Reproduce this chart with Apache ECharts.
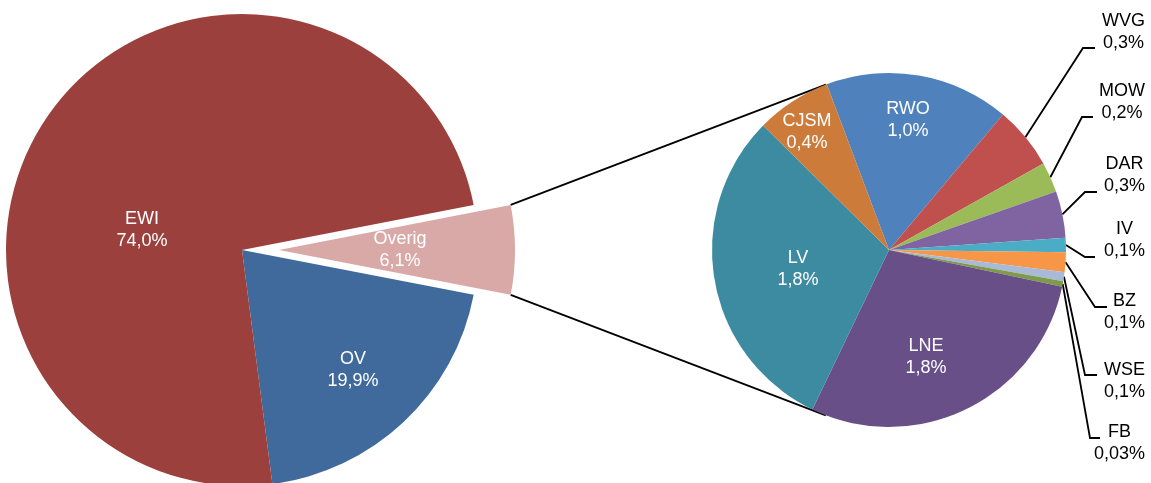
<!DOCTYPE html>
<html>
<head>
    <meta charset="utf-8">
    <script src="https://cdn.jsdelivr.net/npm/echarts@6/dist/echarts.min.js"></script>
</head>
<body style="margin: 0">
    <div id="container" style="width: 1151px; height: 483px"></div>
    <script type="text/javascript">

        // main pie (share of total)
        let mainNames = ['Overig', 'OV', 'EWI'];
        let mainValues = [6.1, 19.9, 74.0];
        let mainLabels = ['6,1%', '19,9%', '74,0%'];

        // breakdown of "Overig"
        let subNames = ['RWO', 'WVG', 'MOW', 'DAR', 'IV', 'BZ', 'WSE', 'FB', 'LNE', 'LV', 'CJSM'];
        let subValues = [1.03, 0.35, 0.17, 0.26, 0.08, 0.11, 0.05, 0.03, 1.76, 1.85, 0.42];
        let subLabels = ['1,0%', '0,3%', '0,2%', '0,3%', '0,1%', '0,1%', '0,1%', '0,03%', '1,8%', '1,8%', '0,4%'];

        let mainColors = ['#D9A9A8', '#3F6A9B', '#9C403D'];
        let subColors = ['#4F81BD', '#C0504D', '#9BBB59', '#8064A2', '#4BACC6', '#F79646',
            '#A9B9D8', '#7F9A48', '#684F88', '#3C8BA1', '#CD7B3A'];

        // layout (px)
        let mainCenter = [242, 250], mainRadius = 236, explode = 37, mainStart = 11;
        let subCenter = [889, 250], subRadius = 177, subStart = 110.6;
        let mainLabelPos = [[453, 250], [353, 370], [142, 230]];
        let innerPos = { RWO: [908, 120], LNE: [926, 357], LV: [798, 269], CJSM: [807, 132] };
        // outer labels: label centre y, leader elbow x, leader y, leader end x
        let outerPos = {
            WVG: [32, 1083, 48, 1095],
            MOW: [102, 1082, 117, 1093],
            DAR: [175, 1085, 192, 1097],
            IV: [240, 1085, 257, 1095],
            BZ: [312, 1095, 307, 1107],
            WSE: [381, 1085, 375, 1097],
            FB: [443, 1090, 438, 1100]
        };
        let labelRight = 1145;

        const rad = d => d * Math.PI / 180;
        const sum = a => a.reduce((s, v) => s + v, 0);

        // point on the edge of the breakdown pie at the middle of slice i
        function subEdge(i) {
            let before = sum(subValues.slice(0, i));
            let a = subStart - (before + subValues[i] / 2) / sum(subValues) * 360;
            return [subCenter[0] + subRadius * Math.cos(rad(a)), subCenter[1] - subRadius * Math.sin(rad(a))];
        }

        // connector lines: from the exploded slice corners, tangent to the second pie
        let span = mainValues[0] / sum(mainValues) * 360;
        let mid = mainStart - span / 2;
        let oc = [mainCenter[0] + explode * Math.cos(rad(mid)), mainCenter[1] - explode * Math.sin(rad(mid))];
        function corner(a) {
            return [oc[0] + mainRadius * Math.cos(rad(a)), oc[1] - mainRadius * Math.sin(rad(a))];
        }
        function tangent(p, upper) {
            let vx = p[0] - subCenter[0], vy = p[1] - subCenter[1];
            let d = Math.sqrt(vx * vx + vy * vy);
            let phi = Math.atan2(vy, vx), alpha = Math.acos(subRadius / d);
            let t = [phi + alpha, phi - alpha].map(b => [subCenter[0] + subRadius * Math.cos(b), subCenter[1] + subRadius * Math.sin(b)]);
            t.sort((a, b) => a[1] - b[1]);
            return upper ? t[0] : t[1];
        }
        let p1 = corner(mainStart), p2 = corner(mainStart - span);
        let t1 = tangent(p1, true), t2 = tangent(p2, false);

        let font = { fontFamily: 'Liberation Sans, Arial, sans-serif', fontSize: 18, lineHeight: 22 };

        let mainData = mainNames.map((n, i) => ({
            name: n,
            value: mainValues[i],
            selected: i === 0,
            itemStyle: { color: mainColors[i] }
        }));

        let subData = subNames.map((n, i) => {
            let outer = outerPos[n] !== undefined;
            return {
                name: n,
                value: subValues[i],
                itemStyle: { color: subColors[i] },
                label: outer ? { position: 'outside', color: '#000' } : { position: 'inside', color: '#fff' },
                labelLine: { show: outer }
            };
        });

        let dom = document.getElementById('container');
        let chart = echarts.init(dom);
        chart.setOption({
            animation: false,
            graphic: [t1, t2].map((t, k) => ({
                type: 'line',
                shape: { x1: [p1, p2][k][0], y1: [p1, p2][k][1], x2: t[0], y2: t[1] },
                style: { stroke: '#000', lineWidth: 1.8 },
                silent: true
            })),
            series: [
                {
                    type: 'pie',
                    center: mainCenter,
                    radius: mainRadius,
                    startAngle: mainStart,
                    selectedMode: 'single',
                    selectedOffset: explode,
                    avoidLabelOverlap: false,
                    emphasis: { disabled: true },
                    select: { itemStyle: {} },
                    label: Object.assign({
                        show: true, position: 'inside', color: '#fff',
                        formatter: p => p.name + '\n' + mainLabels[p.dataIndex]
                    }, font),
                    labelLine: { show: false },
                    labelLayout: p => ({
                        x: mainLabelPos[p.dataIndex][0], y: mainLabelPos[p.dataIndex][1],
                        align: 'center', verticalAlign: 'middle'
                    }),
                    data: mainData
                },
                {
                    type: 'pie',
                    center: subCenter,
                    radius: subRadius,
                    startAngle: subStart,
                    avoidLabelOverlap: false,
                    emphasis: { disabled: true },
                    label: Object.assign({
                        show: true,
                        formatter: p => p.name + '\n' + subLabels[p.dataIndex]
                    }, font),
                    labelLine: { lineStyle: { color: '#000', width: 1.8 } },
                    labelLayout: p => {
                        let n = subNames[p.dataIndex];
                        if (innerPos[n]) {
                            return { x: innerPos[n][0], y: innerPos[n][1], align: 'center', verticalAlign: 'middle' };
                        }
                        let o = outerPos[n];
                        return {
                            x: labelRight - p.labelRect.width / 2, y: o[0],
                            align: 'center', verticalAlign: 'middle',
                            labelLinePoints: [subEdge(p.dataIndex), [o[1], o[2]], [o[3], o[2]]]
                        };
                    },
                    data: subData
                }
            ]
        });

    </script>
</body>
</html>
